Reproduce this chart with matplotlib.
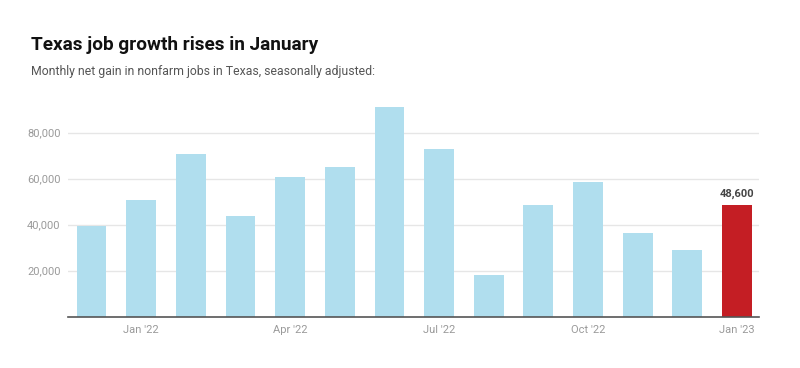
import matplotlib.pyplot as plt

months = ["Dec '21", "Jan '22", "Feb '22", "Mar '22", "Apr '22", "May '22", "Jun '22",
          "Jul '22", "Aug '22", "Sep '22", "Oct '22", "Nov '22", "Dec '22", "Jan '23"]
jobs = [39500, 50600, 70600, 43700, 60600, 65200, 91000,
        72800, 18000, 48400, 58400, 36300, 28900, 48600]
tick_labels = ["Jan '22", "Apr '22", "Jul '22", "Oct '22", "Jan '23"]
yticks = [20000, 40000, 60000, 80000]

plt.rcParams['font.family'] = ['Roboto', 'DejaVu Sans']

fig = plt.figure(figsize=(8, 3.68), dpi=100)
ax = fig.add_axes([0.0846, 0.1394, 0.8645, 0.594])

x = list(range(len(months)))
colors = ["#b0deee"] * (len(jobs) - 1) + ["#c41e24"]
ax.bar(x, jobs, width=0.6, color=colors, zorder=2)

ax.text(x[-1], jobs[-1] + 2500, f"{jobs[-1]:,}", ha="center", va="bottom",
        fontsize=8, fontweight="bold", color="#444444")

ax.set_xlim(-0.48, 13.45)
ax.set_ylim(0, 95000)
ax.set_yticks(yticks)
ax.set_yticklabels([f"{v:,}" for v in yticks])
ax.set_xticks([months.index(m) for m in tick_labels])
ax.set_xticklabels(tick_labels)
ax.tick_params(length=0, labelsize=8, labelcolor="#9a9a9a")
ax.tick_params(axis="x", pad=6)
ax.tick_params(axis="y", pad=5)
ax.grid(axis="y", color="#e6e6e6", linewidth=1, zorder=0)
for s in ["top", "right", "left"]:
    ax.spines[s].set_visible(False)
ax.spines["bottom"].set_color("#555555")
ax.spines["bottom"].set_linewidth(1.2)
ax.spines["bottom"].set_zorder(3)

fig.text(31 / 800, 1 - 45 / 368, "Texas job growth rises in January", fontsize=13.7,
         fontweight="bold", color="#111111", va="center", ha="left")
fig.text(31 / 800, 1 - 72 / 368, "Monthly net gain in nonfarm jobs in Texas, seasonally adjusted:",
         fontsize=8.8, color="#555555", va="center", ha="left")

fig.savefig("out.png", dpi=100)
